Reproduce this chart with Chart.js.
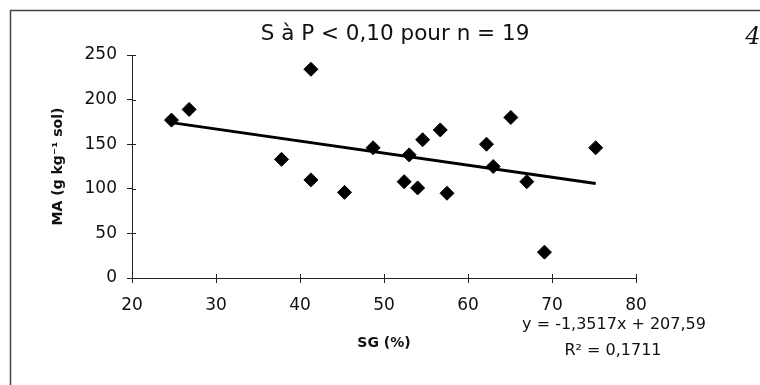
<!DOCTYPE html>
<html lang="fr">

<head>
    <meta charset="UTF-8">
    <title>MA vs SG</title>
    <script src="https://cdn.jsdelivr.net/npm/chart.js"></script>
    <style>
        body {
            margin: 0;
            background: #fff;
        }
    </style>
</head>

<body>
    <canvas id="scatterChart" width="760" height="385"></canvas>

    <script>
        // points: SG (%) and MA (g kg-1 sol)
        const sgValues = [24.7, 26.8, 41.3, 37.8, 41.3, 45.3, 48.7, 53.0, 54.6, 56.7, 52.4, 54.0, 57.5, 62.2, 65.1, 63.0, 67.0, 75.2, 69.1];
        const maValues = [177, 189, 234, 133, 110, 96, 146, 138, 155, 166, 108, 101, 95, 150, 180, 125, 108, 146, 29];

        // trend line ends (y = -1,3517x + 207,59)
        const trendX = [24.7, 75.2];
        const trendY = [174.2, 105.9];

        const xTicks = [20, 30, 40, 50, 60, 70, 80];
        const yTicks = [0, 50, 100, 150, 200, 250];

        const titleText = 'S à P < 0,10 pour n = 19';
        const equationText = 'y = -1,3517x + 207,59';
        const r2Text = 'R² = 0,1711';

        const ink = '#111';
        const fontName = "'DejaVu Sans', sans-serif";

        // extra texts, frame and the inner half of the tick marks
        const extras = {
            id: 'extras',
            afterDraw(chart) {
                const ctx = chart.ctx;
                const xs = chart.scales.x;
                const ys = chart.scales.y;
                ctx.save();

                ctx.strokeStyle = '#444';
                ctx.lineWidth = 1.5;
                ctx.beginPath();
                ctx.moveTo(10, 10.5);
                ctx.lineTo(760, 10.5);
                ctx.moveTo(10.5, 10);
                ctx.lineTo(10.5, 385);
                ctx.stroke();

                ctx.strokeStyle = '#222';
                ctx.lineWidth = 1;
                ctx.beginPath();
                xTicks.forEach(v => {
                    const px = Math.round(xs.getPixelForValue(v)) + 0.5;
                    ctx.moveTo(px, ys.bottom);
                    ctx.lineTo(px, ys.bottom - 4);
                });
                yTicks.forEach(v => {
                    const py = Math.round(ys.getPixelForValue(v)) + 0.5;
                    ctx.moveTo(xs.left, py);
                    ctx.lineTo(xs.left + 4, py);
                });
                ctx.stroke();

                ctx.fillStyle = ink;
                ctx.textAlign = 'center';
                ctx.textBaseline = 'alphabetic';
                ctx.font = '21.5px ' + fontName;
                ctx.fillText(titleText, 395, 40);

                ctx.font = '16px ' + fontName;
                ctx.fillText(equationText, 614, 329);
                ctx.fillText(r2Text, 613, 355);

                ctx.font = "italic 24px 'DejaVu Serif', serif";
                ctx.fillText('4', 753, 44);
                ctx.restore();
            }
        };

        const ctx = document.getElementById('scatterChart').getContext('2d');
        new Chart(ctx, {
            type: 'scatter',
            data: {
                datasets: [
                    {
                        label: 'MA',
                        data: sgValues.map((x, i) => ({ x: x, y: maValues[i] })),
                        pointStyle: 'rectRot',
                        pointRadius: 7,
                        backgroundColor: '#000',
                        borderColor: '#000',
                        borderWidth: 1
                    },
                    {
                        label: 'Tendance',
                        type: 'line',
                        data: trendX.map((x, i) => ({ x: x, y: trendY[i] })),
                        borderColor: '#000',
                        borderWidth: 3,
                        pointRadius: 0,
                        fill: false
                    }
                ]
            },
            options: {
                responsive: false,
                animation: false,
                layout: {
                    padding: { top: 55, right: 124, bottom: 0, left: 0 }
                },
                plugins: {
                    legend: { display: false },
                    tooltip: { enabled: false }
                },
                scales: {
                    x: {
                        type: 'linear',
                        min: 20,
                        max: 80,
                        afterFit: s => { s.height = 107; },
                        afterBuildTicks: s => { s.ticks = xTicks.map(v => ({ value: v })); },
                        ticks: {
                            color: ink,
                            padding: 12,
                            font: { family: fontName, size: 17 }
                        },
                        grid: { drawOnChartArea: false, tickLength: 5, color: '#222' },
                        border: { color: '#222', width: 1 },
                        title: {
                            display: true,
                            text: 'SG (%)',
                            color: ink,
                            font: { family: fontName, size: 14, weight: 'bold' },
                            padding: { top: 0, bottom: 33 }
                        }
                    },
                    y: {
                        min: 0,
                        max: 250,
                        afterFit: s => { s.width = 132; },
                        afterBuildTicks: s => { s.ticks = yTicks.map(v => ({ value: v })); },
                        ticks: {
                            color: ink,
                            padding: 10,
                            font: { family: fontName, size: 17 }
                        },
                        grid: { drawOnChartArea: false, tickLength: 5, color: '#222' },
                        border: { color: '#222', width: 1 },
                        title: {
                            display: true,
                            text: 'MA (g kg⁻¹ sol)',
                            color: ink,
                            font: { family: fontName, size: 14, weight: 'bold' },
                            padding: { top: 50, bottom: 0 }
                        }
                    }
                }
            },
            plugins: [extras]
        });
    </script>
</body>

</html>
